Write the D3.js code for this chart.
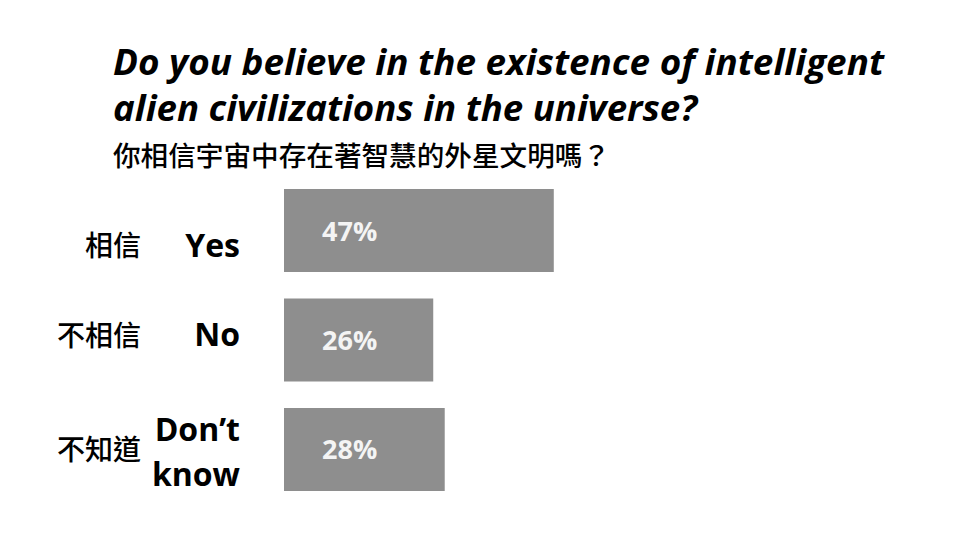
<!DOCTYPE html>
<html>
<head>
<meta charset="utf-8">
<script src="https://cdn.jsdelivr.net/npm/d3@7"></script>
<style>
  html, body { margin: 0; padding: 0; background: #ffffff; }
  svg { display: block; }
</style>
</head>
<body>
<svg id="chart" width="960" height="548"></svg>
<script>
// ---- data ----
const categoriesEn = [["Yes"], ["No"], ["Don\u2019t", "know"]];
const categoriesZh = ["相信", "不相信", "不知道"];
const values = [47, 26, 28];
const valueLabels = ["47%", "26%", "28%"];
const titleLines = ["Do you believe in the existence of intelligent", "alien civilizations in the universe?"];
const subtitle = "你相信宇宙中存在著智慧的外星文明嗎？";

const svg = d3.select("#chart");

// ---- scales ----
const x = d3.scaleLinear().domain([0, 100]).range([284, 858]);
const y = d3.scaleBand().domain(d3.range(values.length)).range([189, 491]).paddingInner(0.242);

// ---- title ----
const latin = "'Open Sans', 'DejaVu Sans', sans-serif";
const cjk = "'Noto Sans CJK TC', 'Noto Sans CJK SC', sans-serif";
const titleW = [771, 584];
svg.selectAll("text.title").data(titleLines).join("text")
  .attr("class", "title")
  .attr("x", 113)
  .attr("y", (d, i) => 75 + i * 46)
  .attr("textLength", (d, i) => titleW[i])
  .attr("lengthAdjust", "spacingAndGlyphs")
  .style("font-family", latin)
  .style("font-weight", 700)
  .style("font-style", "italic")
  .style("font-size", "36px")
  .style("fill", "#000")
  .text(d => d);

svg.append("text")
  .attr("x", 113).attr("y", 166)
  .attr("textLength", 497)
  .attr("lengthAdjust", "spacingAndGlyphs")
  .style("font-family", cjk)
  .style("font-weight", 500)
  .style("font-size", "27px")
  .style("fill", "#000")
  .text(subtitle);

// ---- bars ----
const g = svg.append("g");
g.selectAll("rect.bar").data(values).join("rect")
  .attr("class", "bar")
  .attr("x", x(0))
  .attr("y", (d, i) => y(i))
  .attr("width", d => x(d) - x(0))
  .attr("height", y.bandwidth())
  .attr("fill", "#8e8e8e");

g.selectAll("text.val").data(valueLabels).join("text")
  .attr("class", "val")
  .attr("x", x(0) + 38)
  .attr("y", (d, i) => y(i) + y.bandwidth() / 2 + 10)
  .style("font-family", latin)
  .style("font-weight", 700)
  .style("font-size", "27px")
  .style("fill", "#f4f4f4")
  .text(d => d);

// ---- category labels ----
const enOffsets = [26, 6, 14];
categoriesEn.forEach((lines, i) => {
  const cy = y(i) + y.bandwidth() / 2 + enOffsets[i];
  const n = lines.length;
  lines.forEach((ln, j) => {
    svg.append("text")
      .attr("x", 240)
      .attr("y", cy + (j - (n - 1) / 2) * 45)
      .attr("text-anchor", "end")
      .style("font-family", latin)
      .style("font-weight", 700)
      .style("font-size", "32px")
      .style("fill", "#000")
      .text(ln);
  });
});

const zhOffsets = [25, 6, 11];
svg.selectAll("text.zh").data(categoriesZh).join("text")
  .attr("class", "zh")
  .attr("x", 141)
  .attr("y", (d, i) => y(i) + y.bandwidth() / 2 + zhOffsets[i])
  .attr("text-anchor", "end")
  .style("font-family", cjk)
  .style("font-weight", 500)
  .style("font-size", "28px")
  .style("fill", "#000")
  .text(d => d);
</script>
</body>
</html>
